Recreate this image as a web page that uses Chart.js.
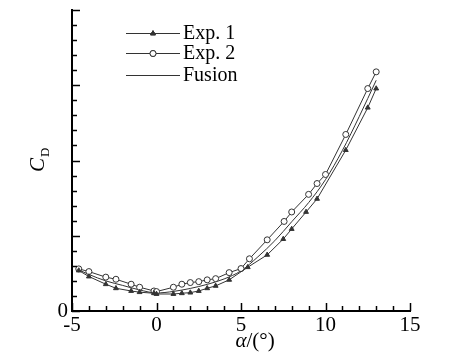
<!DOCTYPE html>
<html>
<head>
<meta charset="utf-8">
<script src="https://cdn.jsdelivr.net/npm/chart.js@4.4.0/dist/chart.umd.min.js"></script>
<style>
	html, body { margin: 0; padding: 0; background: #fff; }
	canvas { display: block; }
</style>
</head>
<body>
<canvas id="cd-chart" width="475" height="354"></canvas>
<script>
// angle of attack (deg) and drag coefficient
var exp1Alpha = [-4.6, -4, -3, -2.4, -1.5, -1, -0.15, 0, 1, 1.5, 2, 2.5, 3, 3.5, 4.3, 5.4, 6.55, 7.5, 8, 8.85, 9.5, 11.2, 12.5, 13];
var exp1Cd = [0.0269, 0.0229, 0.0178, 0.0151, 0.0133, 0.0125, 0.0118, 0.0113, 0.0113, 0.0118, 0.0122, 0.0133, 0.0151, 0.0167, 0.0207, 0.0291, 0.0373, 0.0478, 0.0545, 0.0658, 0.0745, 0.1069, 0.1351, 0.1478];

var exp2Alpha = [-4.6, -4, -3, -2.4, -1.5, -1, -0.15, 0, 1, 1.5, 2, 2.5, 3, 3.5, 4.3, 5, 5.5, 6.55, 7.55, 8, 9, 9.5, 10, 11.2, 12.5, 13];
var exp2Cd = [0.0280, 0.0262, 0.0225, 0.0211, 0.0178, 0.0158, 0.0133, 0.0129, 0.0158, 0.0178, 0.0189, 0.0195, 0.0207, 0.0215, 0.0255, 0.0282, 0.0347, 0.0473, 0.0595, 0.0658, 0.0775, 0.0847, 0.0907, 0.1173, 0.1478, 0.1589];

var fusionAlpha = [-4.6, -4, -3, -2, -1, 0, 1, 2, 3, 4, 5, 6, 7, 8, 9, 10, 11, 12, 13];
var fusionCd = [0.0273, 0.0243, 0.0200, 0.0170, 0.0140, 0.0120, 0.0130, 0.0150, 0.0177, 0.0213, 0.0267, 0.0360, 0.0467, 0.0593, 0.0720, 0.0873, 0.1067, 0.1293, 0.1533];

var legendLabels = ['Exp. 1', 'Exp. 2', 'Fusion'];
var xTicks = [-5, 0, 5, 10, 15];

var ink = '#333';
var serif = '"Liberation Serif", "DejaVu Serif", serif';

function toPoints(xs, ys) {
	return xs.map(function (x, i) { return {x: x, y: ys[i]}; });
}

// inward tick marks, legend and axis titles
var decor = {
	id: 'decor',
	afterDraw: function (chart) {
		var ctx = chart.ctx;
		var xs = chart.scales.x, ys = chart.scales.y;
		var area = chart.chartArea;
		ctx.save();
		ctx.strokeStyle = '#000';
		ctx.lineWidth = 1.5;
		for (var v = -5; v <= 15; v++) {
			var px = Math.round(xs.getPixelForValue(v)) + 0.5;
			var len = v % 5 === 0 ? 8 : 5;
			ctx.beginPath();
			ctx.moveTo(px, area.bottom);
			ctx.lineTo(px, area.bottom - len);
			ctx.stroke();
		}
		for (var k = 0; k <= 20; k++) {
			var py = Math.round(ys.getPixelForValue(k * 0.01)) + 0.5;
			var ylen = k % 5 === 0 ? 8 : 5;
			ctx.beginPath();
			ctx.moveTo(area.left, py);
			ctx.lineTo(area.left + ylen, py);
			ctx.stroke();
		}

		// legend
		ctx.font = '20px ' + serif;
		ctx.textBaseline = 'middle';
		ctx.fillStyle = '#000';
		var rows = [33, 53, 75];
		chart.data.datasets.forEach(function (ds, i) {
			var y = rows[i];
			ctx.strokeStyle = ink;
			ctx.lineWidth = 1;
			ctx.beginPath();
			ctx.moveTo(126, y + 0.5);
			ctx.lineTo(180, y + 0.5);
			ctx.stroke();
			if (ds.pointStyle && ds.pointRadius > 0) {
				Chart.helpers.drawPoint(ctx, {
					pointStyle: ds.pointStyle, radius: ds.pointRadius, borderWidth: 1, rotation: 0
				}, 153, y + 0.5);
				ctx.fillStyle = ds.pointBackgroundColor;
				ctx.fill();
				ctx.stroke();
			}
			ctx.fillStyle = '#000';
			ctx.fillText(legendLabels[i], 183, y + 1);
		});

		// y title: C_D
		ctx.save();
		ctx.translate(44, 172);
		ctx.rotate(-Math.PI / 2);
		ctx.textBaseline = 'alphabetic';
		ctx.textAlign = 'left';
		ctx.font = 'italic 21px ' + serif;
		ctx.fillText('C', 0, 0);
		var cw = ctx.measureText('C').width;
		ctx.font = '13px ' + serif;
		ctx.fillText('D', cw + 1, 5);
		ctx.restore();

		// x title: α/(°)
		ctx.textBaseline = 'alphabetic';
		ctx.textAlign = 'left';
		ctx.font = 'italic 21px ' + serif;
		var a = 'α';
		var rest = '/(°)';
		var aw = ctx.measureText(a).width;
		ctx.font = '21px ' + serif;
		var rw = ctx.measureText(rest).width;
		var start = 255 - (aw + rw) / 2;
		ctx.font = 'italic 21px ' + serif;
		ctx.fillText(a, start, 347);
		ctx.font = '21px ' + serif;
		ctx.fillText(rest, start + aw, 347);
		ctx.restore();
	}
};

new Chart('cd-chart', {
	type: 'line',
	data: {
		datasets: [
			{
				label: legendLabels[0],
				data: toPoints(exp1Alpha, exp1Cd),
				borderColor: ink,
				borderWidth: 1,
				backgroundColor: ink,
				pointStyle: 'triangle',
				pointRadius: 2.8,
				pointBorderWidth: 1,
				pointBackgroundColor: ink,
				tension: 0
			},
			{
				label: legendLabels[1],
				data: toPoints(exp2Alpha, exp2Cd),
				borderColor: ink,
				borderWidth: 1,
				pointStyle: 'circle',
				pointRadius: 3,
				pointBorderWidth: 1,
				pointBackgroundColor: '#fff',
				tension: 0
			},
			{
				label: legendLabels[2],
				data: toPoints(fusionAlpha, fusionCd),
				borderColor: ink,
				borderWidth: 1,
				pointRadius: 0,
				cubicInterpolationMode: 'monotone'
			}
		]
	},
	options: {
		responsive: false,
		animation: false,
		layout: {
			padding: {left: 0, top: 10, right: 65, bottom: 0}
		},
		plugins: {
			legend: {display: false},
			tooltip: {enabled: false}
		},
		scales: {
			x: {
				type: 'linear',
				min: -5,
				max: 15,
				grid: {display: false, drawTicks: false},
				border: {display: true, color: '#000', width: 2},
				afterBuildTicks: function (scale) {
					scale.ticks = xTicks.map(function (v) { return {value: v}; });
				},
				afterFit: function (scale) {
					scale.height = 43;
					scale.paddingLeft = 0;
					scale.paddingRight = 0;
				},
				ticks: {
					color: '#000',
					padding: 2,
					maxRotation: 0,
					font: {family: serif, size: 21}
				}
			},
			y: {
				min: 0,
				max: 0.2,
				grid: {display: false, drawTicks: false},
				border: {display: true, color: '#000', width: 2},
				afterFit: function (scale) {
					scale.width = 72;
					scale.paddingTop = 0;
					scale.paddingBottom = 0;
				},
				ticks: {
					color: '#000',
					padding: 4,
					stepSize: 0.05,
					font: {family: serif, size: 21},
					callback: function (v) { return v === 0 ? '0' : ''; }
				}
			}
		}
	},
	plugins: [decor]
});
</script>
</body>
</html>
